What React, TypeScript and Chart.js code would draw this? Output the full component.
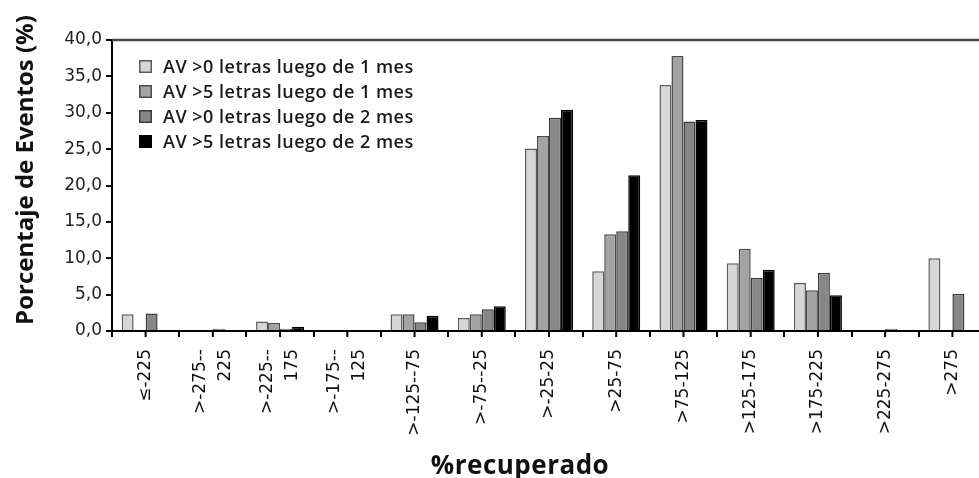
import { useEffect, useRef } from "react";
import { Chart, registerables } from "chart.js";

Chart.register(...registerables);

// Recovery bins (%)
const categories: (string | string[])[] = [
  "≤-225",
  [">-275--", "225"],
  [">-225--", "175"],
  [">-175--", "125"],
  ">-125--75",
  ">-75--25",
  ">-25-25",
  ">25-75",
  ">75-125",
  ">125-175",
  ">175-225",
  ">225-275",
  ">275",
];

const seriesNames = [
  "AV >0 letras luego de 1 mes",
  "AV >5 letras luego de 1 mes",
  "AV >0 letras luego de 2 mes",
  "AV >5 letras luego de 2 mes",
];

const av0Month1 = [2.3, 0, 1.3, 0, 2.3, 1.8, 25.1, 8.2, 33.8, 9.3, 6.6, 0, 10.0];
const av5Month1 = [0, 0, 1.1, 0, 2.3, 2.3, 26.8, 13.3, 37.8, 11.3, 5.6, 0, 0];
const av0Month2 = [2.4, 0.3, 0.3, 0, 1.2, 3.0, 29.3, 13.7, 28.8, 7.3, 8.0, 0.3, 5.1];
const av5Month2 = [0, 0, 0.6, 0, 2.1, 3.4, 30.4, 21.4, 29.0, 8.4, 4.9, 0, 0];

const yTicks = [0, 5, 10, 15, 20, 25, 30, 35, 40];

const fills = ["#d6d6d6", "#a3a3a3", "#878787", "#000000"];
const borders = ["#5c5c5c", "#4a4a4a", "#3c3c3c", "#000000"];

const yTitle = "Porcentaje de Eventos (%)";
const xTitle = "%recuperado";

const X_LINE_HEIGHT = 1.45;

// Centre multi-line rotated category labels on their tick as a block
const centreLabels = {
  id: "centreLabels",
  beforeDraw(chart: any) {
    const sc = chart.scales.x;
    const items = sc.getLabelItems(chart.chartArea);
    items.forEach((it: any) => {
      const n = Array.isArray(it.label) ? it.label.length : 1;
      if (n > 1 && !it._centred) {
        it.textOffset -= ((n - 1) * it.font.lineHeight) / 2;
        it._centred = true;
      }
    });
  },
};

const decorations = {
  id: "decorations",
  afterDraw(chart: any) {
    const { ctx, chartArea } = chart;
    const x = chart.scales.x;
    ctx.save();

    // top frame line
    ctx.strokeStyle = "#4a4a4a";
    ctx.lineWidth = 2.5;
    ctx.beginPath();
    ctx.moveTo(chartArea.left, chartArea.top);
    ctx.lineTo(chartArea.right, chartArea.top);
    ctx.stroke();

    // tick marks at category centres
    ctx.strokeStyle = "#000";
    ctx.lineWidth = 2;
    for (let i = 0; i < categories.length; i++) {
      const px = x.getPixelForValue(i);
      ctx.beginPath();
      ctx.moveTo(px, chartArea.bottom);
      ctx.lineTo(px, chartArea.bottom + 6);
      ctx.stroke();
    }

    // legend inside the plot
    const lx = chartArea.left + 27;
    const ly = chartArea.top + 27;
    ctx.font = "600 18px 'Open Sans'";
    (ctx as any).letterSpacing = "0.5px";
    ctx.textBaseline = "middle";
    ctx.textAlign = "left";
    chart.data.datasets.forEach((ds: any, i: number) => {
      const cy = ly + i * 25;
      ctx.fillStyle = ds.backgroundColor;
      ctx.fillRect(lx, cy - 7, 13, 13);
      ctx.strokeStyle = ds.borderColor;
      ctx.lineWidth = 1.5;
      ctx.strokeRect(lx + 0.75, cy - 6.25, 11.5, 11.5);
      ctx.fillStyle = "#1a1a1a";
      ctx.fillText(ds.label, lx + 24, cy + 1);
    });

    // axis titles
    ctx.fillStyle = "#111";
    ctx.textAlign = "center";
    ctx.textBaseline = "alphabetic";
    ctx.font = "bold 26px 'Open Sans'";
    (ctx as any).letterSpacing = "0.5px";
    ctx.fillText(xTitle, 520, 474);
    ctx.font = "bold 24px 'Open Sans'";
    (ctx as any).letterSpacing = "0px";
    ctx.translate(33, 170);
    ctx.rotate(-Math.PI / 2);
    ctx.fillText(yTitle, 0, 0);
    ctx.restore();
  },
};

export default function App() {
  const ref = useRef<HTMLCanvasElement>(null);

  useEffect(() => {
    document.body.style.margin = "0";
    const series = [av0Month1, av5Month1, av0Month2, av5Month2];
    const chart = new Chart(ref.current!, {
      type: "bar",
      data: {
        labels: categories as any,
        datasets: series.map((d, i) => ({
          label: seriesNames[i],
          data: d,
          backgroundColor: fills[i],
          borderColor: borders[i],
          borderWidth: 1.5,
          borderSkipped: "bottom",
          categoryPercentage: 0.714,
          barPercentage: 1.0,
        })),
      },
      options: {
        responsive: false,
        animation: false,
        layout: { padding: { top: 40, right: 6, left: 0, bottom: 0 } },
        plugins: {
          legend: { display: false },
          tooltip: { enabled: false },
        },
        scales: {
          x: {
            offset: true,
            grid: {
              offset: true,
              drawOnChartArea: false,
              tickLength: 6,
              color: "#000",
              lineWidth: 2,
            },
            border: { display: true, color: "#000", width: 2 },
            ticks: {
              autoSkip: false,
              maxRotation: 90,
              minRotation: 90,
              padding: 12,
              color: "#111",
              font: { family: "'DejaVu Sans'", size: 17, lineHeight: X_LINE_HEIGHT },
            },
            afterFit(scale: any) {
              scale.height = 147;
            },
          },
          y: {
            min: 0,
            max: 40,
            afterBuildTicks(scale: any) {
              scale.ticks = yTicks.map((v) => ({ value: v }));
            },
            grid: {
              drawOnChartArea: false,
              tickLength: 6,
              color: "#000",
              lineWidth: 2,
            },
            border: { display: true, color: "#000", width: 2 },
            ticks: {
              padding: 4,
              color: "#222",
              font: { family: "'DejaVu Sans'", size: 17 },
              callback: (v: any) => Number(v).toFixed(1).replace(".", ","),
            },
            afterFit(scale: any) {
              scale.width = 112;
            },
          },
        },
      },
      plugins: [centreLabels, decorations],
    });
    return () => chart.destroy();
  }, []);

  return (
    <div style={{ width: 979, height: 478, overflow: "hidden", background: "#fff" }}>
      <canvas ref={ref} width={992} height={478} />
    </div>
  );
}
